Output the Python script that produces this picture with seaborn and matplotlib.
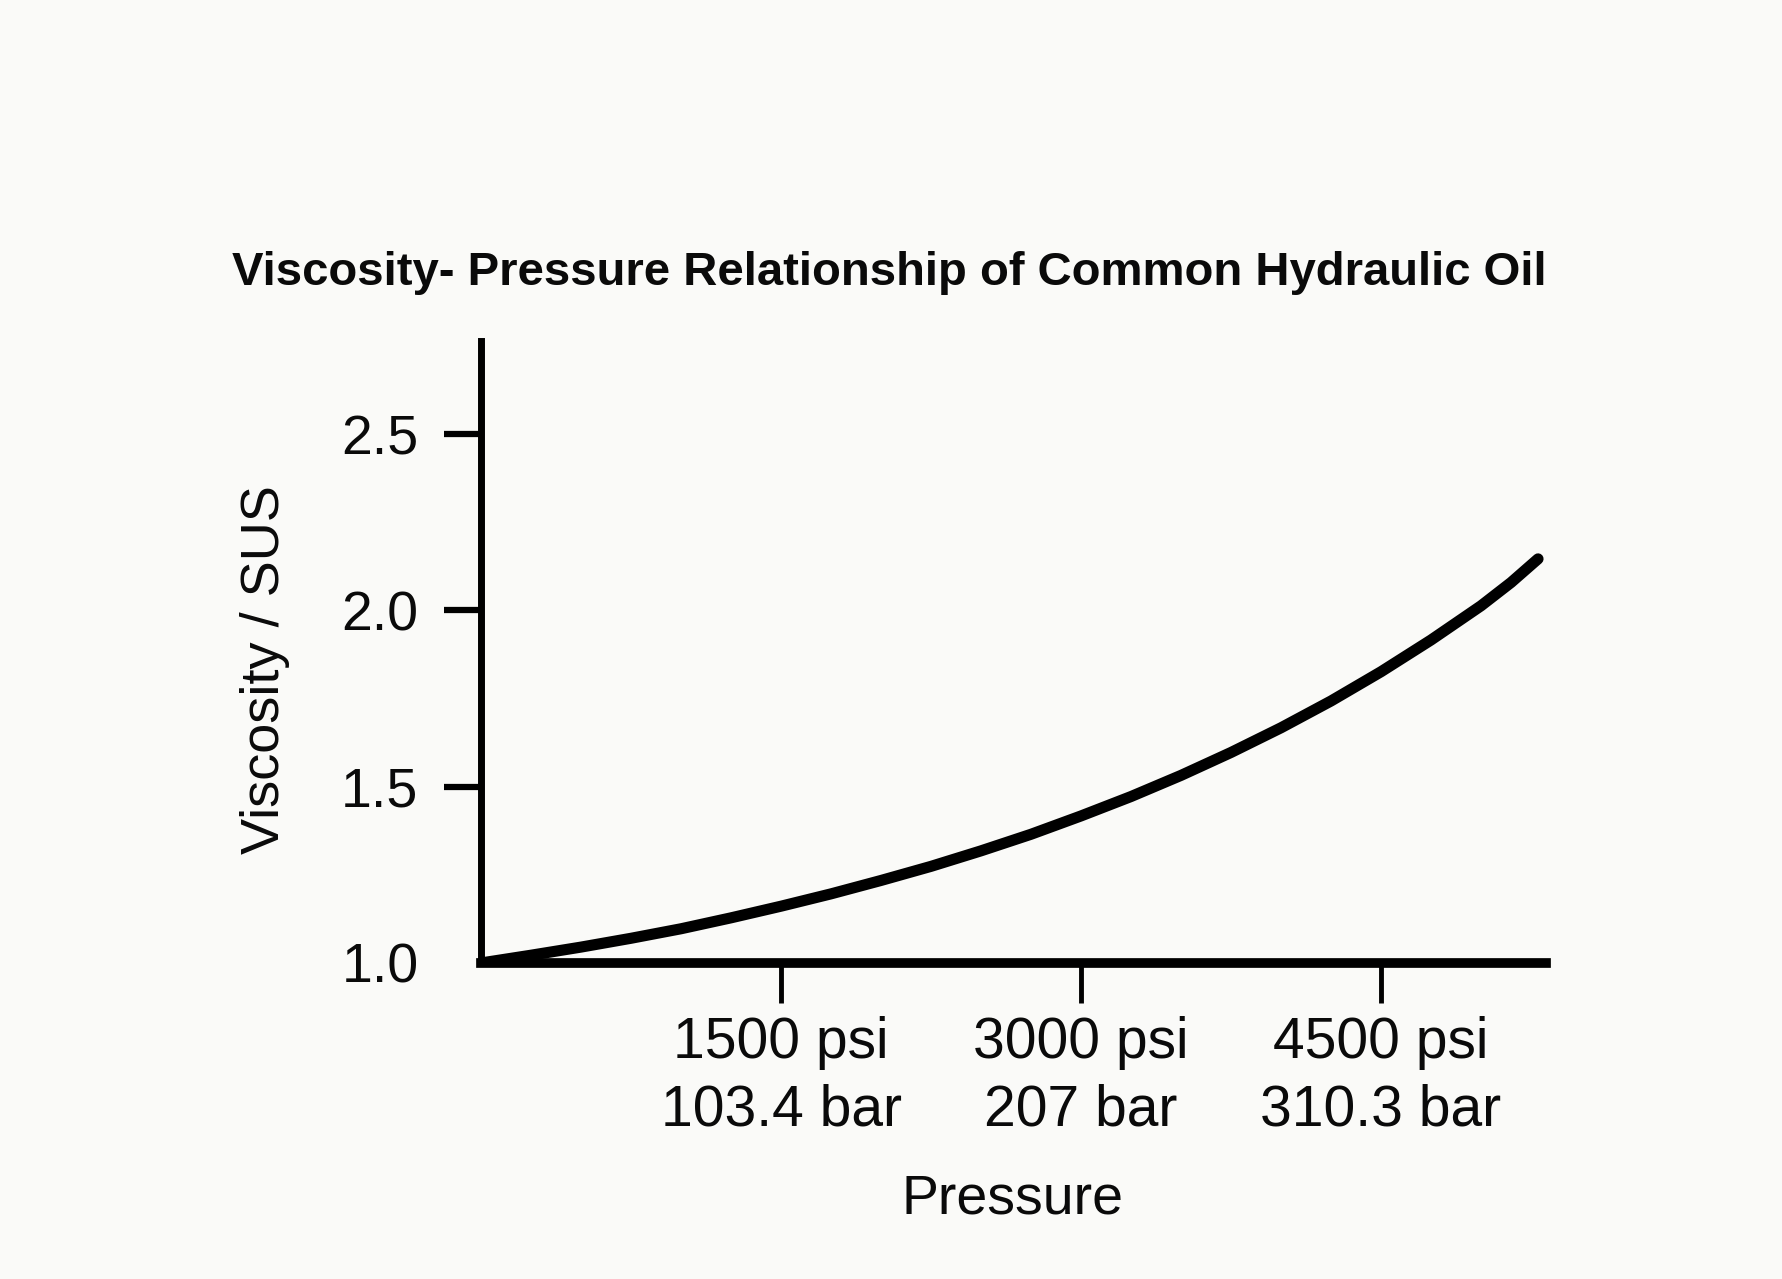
import numpy as np
import pandas as pd
import matplotlib
matplotlib.use('Agg')
import matplotlib.pyplot as plt
import seaborn as sns

# Data
pressure_psi = [0, 250, 500, 750, 1000, 1250, 1500, 1750, 2000, 2250, 2500,
                2750, 3000, 3250, 3500, 3750, 4000, 4250, 4500, 4750, 5000,
                5150, 5285]
viscosity = [1.000, 1.022, 1.045, 1.070, 1.097, 1.128, 1.161, 1.196, 1.234,
             1.274, 1.318, 1.365, 1.417, 1.472, 1.532, 1.597, 1.667, 1.743,
             1.826, 1.916, 2.013, 2.079, 2.146]
xtick_values = [1500, 3000, 4500]
xtick_labels = ["1500 psi\n103.4 bar", "3000 psi\n207 bar", "4500 psi\n310.3 bar"]
ytick_values = [1.0, 1.5, 2.0, 2.5]
ytick_labels = ["1.0", "1.5", "2.0", "2.5"]
title = "Viscosity- Pressure Relationship of Common Hydraulic Oil"
xlabel = "Pressure"
ylabel = "Viscosity / SUS"

sns.set_theme(style='ticks')
plt.rcParams['font.family'] = ['Liberation Sans', 'DejaVu Sans']
bg = '#fafaf8'

fig = plt.figure(figsize=(17.83, 12.79), dpi=100, facecolor=bg)
ax = fig.add_axes([0.2698, 0.2471, 0.5973, 0.4863])
ax.set_facecolor(bg)

df = pd.DataFrame({'Pressure': pressure_psi, 'Viscosity': viscosity})
sns.lineplot(data=df, x='Pressure', y='Viscosity', ax=ax, color='black',
             linewidth=8, solid_capstyle='round', solid_joinstyle='round')

ax.set_xlim(0, 5325)
ax.set_ylim(1.0, 2.764)

sns.despine(ax=ax, top=True, right=True)
ax.spines['left'].set_linewidth(5)
ax.spines['bottom'].set_linewidth(7)
ax.spines['left'].set_color('black')
ax.spines['bottom'].set_color('black')

ax.set_xticks(xtick_values)
ax.set_xticklabels(xtick_labels)
ax.set_yticks(ytick_values)
ax.set_yticklabels(ytick_labels)

ax.tick_params(axis='y', length=27, width=4.5, pad=18, labelsize=40,
               direction='out', color='black', labelcolor='#0a0a0a')
ax.tick_params(axis='x', length=29, width=3.5, pad=9, labelsize=41,
               direction='out', color='black', labelcolor='#0a0a0a')
for lab in ax.get_xticklabels():
    lab.set_linespacing(1.33)
ax.yaxis.get_major_ticks()[0].tick1line.set_visible(False)

ax.set_xlabel(xlabel, fontsize=40, va='center', color='#0a0a0a')
ax.xaxis.set_label_coords(0.499, -0.38)
ax.set_ylabel(ylabel, fontsize=39, va='center', color='#0a0a0a')
ax.yaxis.set_label_coords(-0.203, 0.471)

fig.text(0.4986, 0.7866, title, ha='center', va='center',
         fontsize=34, fontweight='bold', color='#0a0a0a')

fig.savefig('out.png', dpi=100, facecolor=bg)
